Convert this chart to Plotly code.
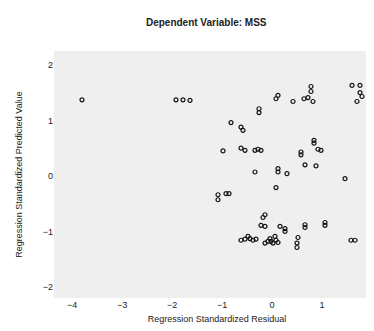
import plotly.graph_objects as go

residual = [-3.80, -1.92, -1.78, -1.64,
            1.60, 1.76, 1.76, 1.80, 1.70,
            0.78, 0.78, 0.72, 0.64, 0.82, 0.42, 0.12, 0.08,
            -0.26, -0.26, -0.82, -0.62, -0.58,
            -0.98, -0.62, -0.54, -0.34, -0.28, -0.22,
            0.84, 0.84, 0.92, 0.98, 0.58, 0.58,
            -0.34, 0.12, 0.12, 0.30, 0.66, 0.88, 1.46, 0.08,
            -1.08, -1.08, -0.92, -0.86,
            -0.14, -0.18, -0.22, -0.14, 0.16, 0.26, 0.26, 0.66, 0.66, 1.06, 1.06,
            -0.62, -0.54, -0.48, -0.44, -0.38, -0.32, -0.14, -0.08, -0.04, -0.02,
            0.02, 0.08, 0.12, 0.06, 0.52, 0.50, 0.50, 1.58, 1.66]
predicted = [1.37, 1.37, 1.37, 1.36,
             1.63, 1.63, 1.50, 1.43, 1.34,
             1.61, 1.52, 1.41, 1.39, 1.34, 1.34, 1.45, 1.39,
             1.21, 1.14, 0.96, 0.88, 0.82,
             0.45, 0.50, 0.46, 0.46, 0.48, 0.46,
             0.64, 0.59, 0.48, 0.46, 0.43, 0.38,
             0.07, 0.13, 0.07, 0.04, 0.20, 0.18, -0.05, -0.21,
             -0.34, -0.43, -0.32, -0.32,
             -0.70, -0.75, -0.89, -0.91, -0.91, -0.95, -1.00, -0.88, -0.93, -0.84, -0.89,
             -1.16, -1.14, -1.09, -1.13, -1.16, -1.14, -1.21, -1.18, -1.13, -1.18,
             -1.21, -1.16, -1.20, -1.09, -1.11, -1.21, -1.29, -1.16, -1.16]

x_ticks = [-4, -3, -2, -1, 0, 1, 2]
y_ticks = [-2, -1, 0, 1, 2]

fig = go.Figure(go.Scatter(
    x=residual, y=predicted, mode="markers",
    marker=dict(symbol="circle-open", size=4, color="#111111", line=dict(width=1.2)),
))

fig.update_layout(
    width=374, height=331,
    margin=dict(l=46, r=2, t=43, b=41),
    paper_bgcolor="white", plot_bgcolor="#efefef",
    font=dict(family="Liberation Sans, Arial, sans-serif", size=9, color="#222222"),
    title=dict(text="<b>Dependent Variable: MSS</b>", x=0.53, xanchor="center",
               y=0.955, yanchor="middle", font=dict(size=10)),
    showlegend=False,
)
fig.update_xaxes(range=[-4.36, 2.16], tickvals=x_ticks, showgrid=False, zeroline=False,
                 showline=False, ticks="", title=dict(text="Regression Standardized Residual",
                 font=dict(size=9), standoff=6))
fig.update_yaxes(range=[-2.2, 2.25], tickvals=y_ticks, showgrid=False, zeroline=False,
                 showline=False, ticks="", title=dict(text="Regression Standardized Predicted Value",
                 font=dict(size=9), standoff=18))

fig.write_html("out.html")
